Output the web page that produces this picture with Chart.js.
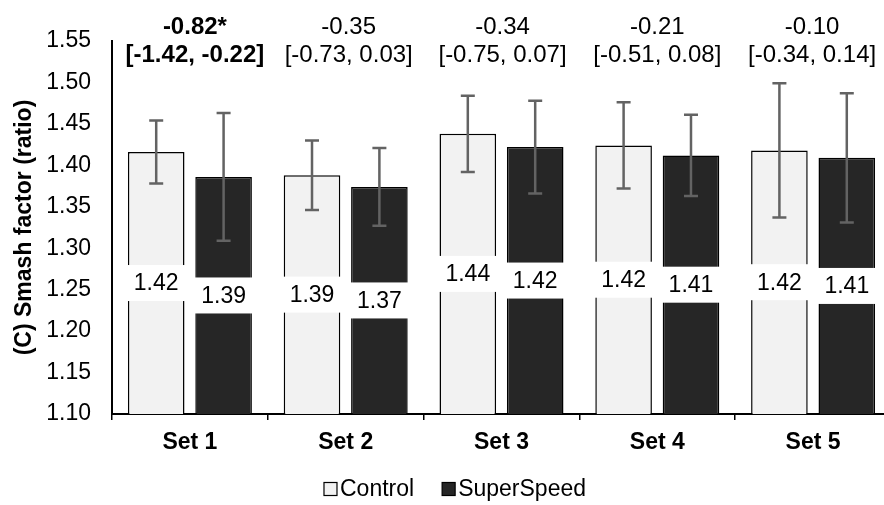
<!DOCTYPE html>
<html>
<head>
<meta charset="utf-8">
<script src="https://cdn.jsdelivr.net/npm/chart.js@4/dist/chart.umd.min.js"></script>
<style>
  html, body { margin: 0; padding: 0; background: #fff; overflow: hidden; }
  #wrap { width: 891px; height: 505px; }
</style>
</head>
<body>
<div id="wrap"><canvas id="myChart" width="891" height="505"></canvas></div>
<script>
const categories = ['Set 1', 'Set 2', 'Set 3', 'Set 4', 'Set 5'];
const controlMeans = [1.416, 1.388, 1.438, 1.424, 1.418];
const controlErrors = [0.038, 0.042, 0.046, 0.052, 0.081];
const superSpeedMeans = [1.386, 1.374, 1.422, 1.412, 1.409];
const superSpeedErrors = [0.077, 0.047, 0.056, 0.049, 0.078];
const effectSizes = ['-0.82*', '-0.35', '-0.34', '-0.21', '-0.10'];
const effectRanges = ['[-1.42, -0.22]', '[-0.73, 0.03]', '[-0.75, 0.07]', '[-0.51, 0.08]', '[-0.34, 0.14]'];
const significant = [true, false, false, false, false];
const yTicks = [1.10, 1.15, 1.20, 1.25, 1.30, 1.35, 1.40, 1.45, 1.50, 1.55];

const FONT = "'Liberation Sans', Arial, sans-serif";
const FS = 23;

// error bars on top of the bars
const errorBars = {
  id: 'errorBars',
  afterDatasetsDraw(chart) {
    const ctx = chart.ctx;
    const y = chart.scales.y;
    ctx.save();
    ctx.strokeStyle = '#636363';
    ctx.lineWidth = 2.5;
    chart.data.datasets.forEach((ds, i) => {
      const meta = chart.getDatasetMeta(i);
      meta.data.forEach((bar, j) => {
        const top = y.getPixelForValue(ds.data[j] + ds.errors[j]);
        const bot = y.getPixelForValue(ds.data[j] - ds.errors[j]);
        ctx.beginPath();
        ctx.moveTo(bar.x, top); ctx.lineTo(bar.x, bot);
        ctx.moveTo(bar.x - 7, top); ctx.lineTo(bar.x + 7, top);
        ctx.moveTo(bar.x - 7, bot); ctx.lineTo(bar.x + 7, bot);
        ctx.stroke();
      });
    });
    ctx.restore();
  }
};

// value labels in white boxes, centred in each bar
const valueLabels = {
  id: 'valueLabels',
  afterDatasetsDraw(chart) {
    const ctx = chart.ctx;
    const y = chart.scales.y;
    const basePx = y.getPixelForValue(y.min);
    ctx.save();
    ctx.font = FS + 'px ' + FONT;
    ctx.textAlign = 'center';
    ctx.textBaseline = 'middle';
    chart.data.datasets.forEach((ds, i) => {
      chart.getDatasetMeta(i).data.forEach((bar, j) => {
        const topPx = y.getPixelForValue(ds.data[j]);
        const cy = (topPx + basePx) / 2;
        const w = bar.width;
        ctx.fillStyle = '#fff';
        ctx.fillRect(bar.x - w / 2 - 1, cy - 18, w + 2, 36);
        ctx.fillStyle = '#000';
        ctx.fillText(ds.data[j].toFixed(2), bar.x, cy + 1);
      });
    });
    ctx.restore();
  }
};

// effect size annotations above each set
const effectNotes = {
  id: 'effectNotes',
  afterDraw(chart, args, opts) {
    const ctx = chart.ctx;
    const x = chart.scales.x;
    ctx.save();
    ctx.textAlign = 'center';
    ctx.textBaseline = 'middle';
    ctx.fillStyle = '#000';
    categories.forEach((c, i) => {
      const cx = x.getPixelForValue(i) + opts.shift[i];
      ctx.font = (significant[i] ? 'bold ' : '') + '24px ' + FONT;
      ctx.fillText(effectSizes[i], cx, 27);
      ctx.fillText(effectRanges[i], cx, 55);
    });
    ctx.restore();
  }
};

// legend drawn below the axis
const bottomLegend = {
  id: 'bottomLegend',
  afterDraw(chart, args, opts) {
    const ctx = chart.ctx;
    ctx.save();
    ctx.font = FS + 'px ' + FONT;
    ctx.textBaseline = 'middle';
    const items = chart.data.datasets.map(ds => ({
      text: ds.label, fill: ds.backgroundColor, w: 13 + 3 + ctx.measureText(ds.label).width
    }));
    const total = items.reduce((s, it) => s + it.w, 0) + opts.gap * (items.length - 1);
    let lx = opts.centerX - total / 2;
    items.forEach(it => {
      ctx.fillStyle = it.fill;
      ctx.fillRect(lx, opts.y - 6.5, 13, 13);
      ctx.strokeStyle = '#000';
      ctx.lineWidth = 1.2;
      ctx.strokeRect(lx, opts.y - 6.5, 13, 13);
      ctx.fillStyle = '#000';
      ctx.fillText(it.text, lx + 16, opts.y + 1);
      lx += it.w + opts.gap;
    });
    ctx.restore();
  }
};

const data = {
  labels: categories,
  datasets: [
    {
      label: 'Control',
      data: controlMeans,
      errors: controlErrors,
      backgroundColor: '#f2f2f2',
      borderColor: '#000',
      borderWidth: 1.5,
      categoryPercentage: 0.865,
      barPercentage: 0.84
    },
    {
      label: 'SuperSpeed',
      data: superSpeedMeans,
      errors: superSpeedErrors,
      backgroundColor: '#262626',
      borderColor: '#000',
      borderWidth: 1.5,
      categoryPercentage: 0.865,
      barPercentage: 0.84
    }
  ]
};

const config = {
  type: 'bar',
  data: data,
  options: {
    responsive: false,
    animation: false,
    layout: { padding: { top: 41, right: 0, bottom: 0, left: 0 } },
    plugins: {
      legend: { display: false },
      tooltip: { enabled: false },
      effectNotes: { shift: [5, 3, 1, 0, -1] },
      bottomLegend: { centerX: 455, y: 489, gap: 28 }
    },
    scales: {
      x: {
        afterFit: s => { s.height = 91; },
        grid: { display: true, offset: true, drawOnChartArea: false, drawTicks: true, tickLength: 6, color: '#000', lineWidth: 1.5 },
        border: { display: true, color: '#000', width: 2 },
        ticks: { color: '#000', padding: 9, font: { family: FONT, size: FS, weight: 'bold' } }
      },
      y: {
        min: 1.10,
        max: 1.55,
        afterFit: s => { s.width = 112; },
        afterBuildTicks: s => { s.ticks = yTicks.map(v => ({ value: v })); },
        grid: { display: false, drawTicks: false },
        border: { display: true, color: '#000', width: 2 },
        ticks: {
          color: '#000',
          padding: 21,
          font: { family: FONT, size: FS },
          callback: v => v.toFixed(2)
        },
        title: {
          display: true,
          text: '(C) Smash factor (ratio)',
          color: '#000',
          padding: { top: 11, bottom: 0 },
          font: { family: FONT, size: FS, weight: 'bold' }
        }
      }
    }
  },
  plugins: [errorBars, valueLabels, effectNotes, bottomLegend]
};

const myChart = new Chart(document.getElementById('myChart'), config);
</script>
</body>
</html>
